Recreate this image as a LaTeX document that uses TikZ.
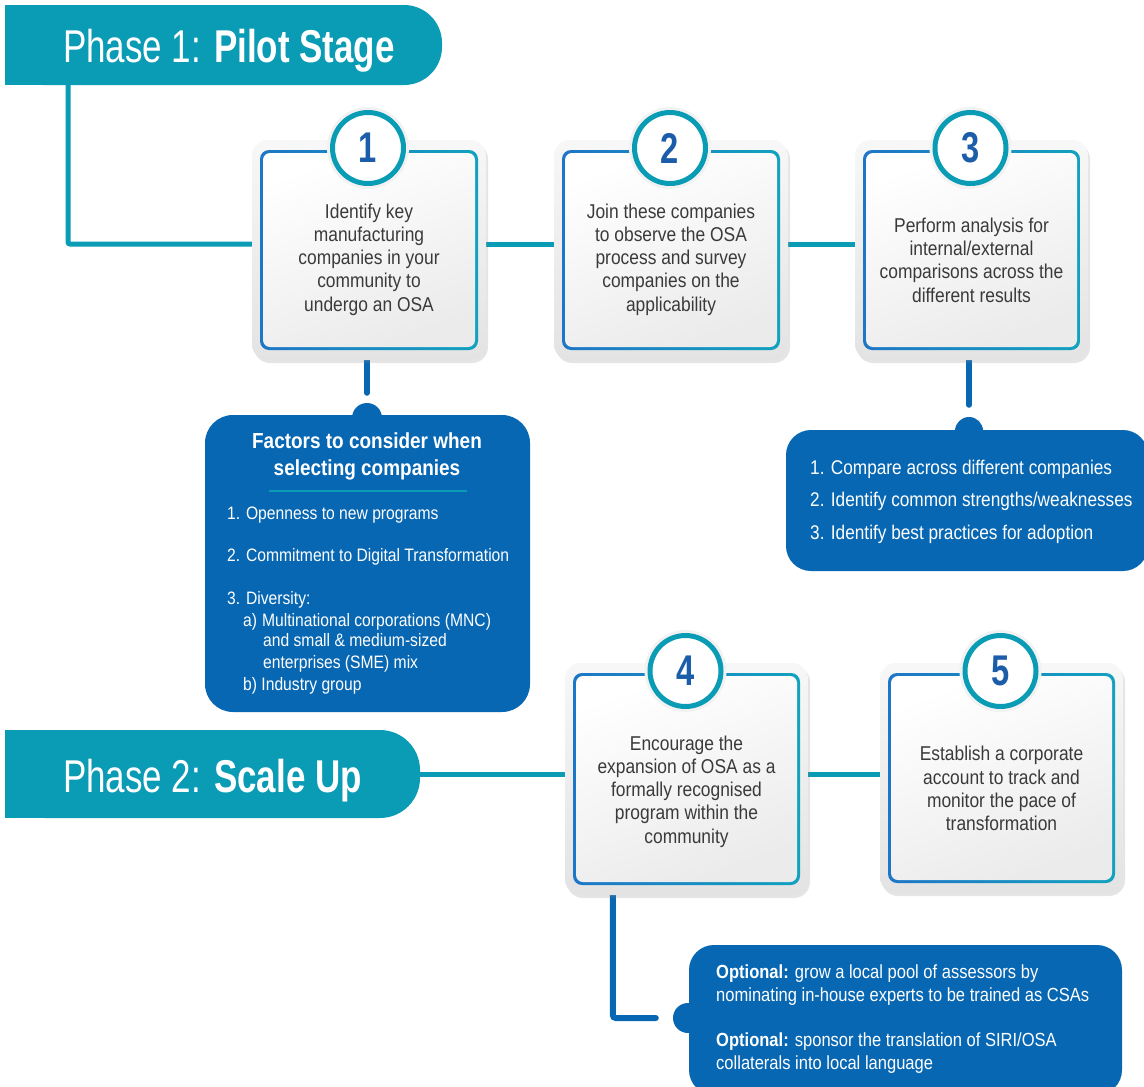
\documentclass[tikz,border=0pt]{standalone}
\usepackage{fontspec}
\setmainfont{Liberation Sans}[FakeStretch=0.87]
\newfontfamily\titlefont{Liberation Sans}[FakeStretch=0.76]
\usetikzlibrary{shadows,calc}
\pgfdeclarelayer{bg}
\pgfsetlayers{bg,main}
\definecolor{teal1}{HTML}{0A9BB5}
\definecolor{dblue}{HTML}{0767B3}
\definecolor{numblue}{HTML}{1C5DAA}
\definecolor{cbL}{HTML}{1E76C6}
\definecolor{cbR}{HTML}{12A2BF}
\definecolor{txtgray}{HTML}{3A3A3A}
\tikzset{
  cardframe/.style={rectangle, rounded corners=16pt, top color=gray!6, bottom color=gray!22, draw=none, inner sep=0pt,
    drop shadow={opacity=0.2, shadow xshift=2pt, shadow yshift=-3pt}},
  cardborder/.style={rectangle, rounded corners=9pt, left color=cbL, right color=cbR, inner sep=0pt},
  cardfill/.style={rectangle, rounded corners=7pt, top color=white, bottom color=gray!16, shading angle=20, inner sep=0pt},
  numhalo/.style={circle, fill=gray!10, inner sep=0pt, minimum size=82pt},
  numcircle/.style={circle, fill=white, draw=teal1, line width=5pt, minimum size=71pt, inner sep=0pt,
    font=\titlefont\bfseries\fontsize{43}{43}\selectfont, text=numblue},
  cardtext/.style={align=center, text=txtgray, inner sep=0pt, font=\fontsize{20}{23.3}\selectfont},
  tealline/.style={draw=teal1, line width=5pt, rounded corners=2pt},
  blueline/.style={draw=dblue, line width=6pt, line cap=round, rounded corners=3pt},
  bluebox/.style={rectangle, fill=dblue, inner sep=0pt},
  bubble/.style={circle, fill=dblue, inner sep=0pt, minimum size=30pt},
  wlist/.style={text=white, inner sep=0pt, anchor=base west, font=\fontsize{18}{21}\selectfont},
  wlistb/.style={text=white, inner sep=0pt, anchor=base west, font=\fontsize{19.8}{23}\selectfont},
  wopt/.style={text=white, inner sep=0pt, anchor=base west, font=\fontsize{19}{23}\selectfont},
  phasetext/.style={anchor=base west, inner sep=0pt, text=white, font=\titlefont\fontsize{46}{46}\selectfont},
}
% #1 name, #2 cx, #3 cy, #4 inner w, #5 inner h, #6 number, #7 text y, #8 text
\newcommand\stepcard[8]{%
  \node[cardframe, minimum width=#4+16, minimum height=#5+20] (#1) at (#2,#3) {};
  \node[cardborder, minimum width=#4, minimum height=#5] (#1b) at (#2,#3) {};
  \node[cardfill, minimum width=#4-6, minimum height=#5-6] (#1f) at (#2,#3) {};
  \node[numhalo] (#1h) at (#2-1,#3-#5/2-2) {};
  \node[numcircle] (#1n) at (#2-1,#3-#5/2-2) {#6};
  \node[cardtext] (#1t) at (#2,#7) {#8};
}
\begin{document}
\begin{tikzpicture}[x=1pt,y=-1pt]
\useasboundingbox (0,0) rectangle (1144,1087);
\begin{pgfonlayer}{bg}
  \fill[white] (0,0) rectangle (1144,1087);
\end{pgfonlayer}

% Phase banners
\fill[teal1] (5,5) rectangle (400,85);
\fill[teal1, rounded corners=38pt] (5,5) rectangle (442,85);
\node[phasetext] (ph1) at (63,62) {Phase 1: \textbf{Pilot Stage}};
\coordinate (p1drop) at (68,85);

\fill[teal1] (5,730) rectangle (380,818);
\fill[teal1, rounded corners=40pt] (5,730) rectangle (420,818);
\node[phasetext] (ph2) at (63,792) {Phase 2: \textbf{Scale Up}};
\coordinate (p2e) at (420,774);

% Step cards
\stepcard{b1}{369}{250}{218}{200}{1}{259.5}{Identify key\\manufacturing\\companies in your\\community to\\undergo an OSA}
\stepcard{b2}{671}{250}{218}{200}{2}{259.5}{Join these companies\\to observe the OSA\\process and survey\\companies on the\\applicability}
\stepcard{b3}{971.5}{250}{217}{200}{3}{260}{Perform analysis for\\internal/external\\comparisons across the\\different results}
\stepcard{b4}{686.5}{779}{227}{212}{4}{791.5}{Encourage the\\expansion of OSA as a\\formally recognised\\program within the\\community}
\stepcard{b5}{1001.5}{778}{227}{210}{5}{788.5}{Establish a corporate\\account to track and\\monitor the pace of\\transformation}

% Factors box
\node[bubble] (fbub) at (367,418) {};
\node[bluebox, rounded corners=28pt, minimum width=325pt, minimum height=297pt] (fbox) at (367.5,563.5) {};
\node[align=center, text=white, inner sep=0pt, font=\bfseries\fontsize{21.8}{27}\selectfont] (fhead) at (367,456.5) {Factors to consider when\\selecting companies};
\draw[teal1, line width=2pt] (269,491) -- (467,491);
\node[wlist] (f1) at (227,519) {1. Openness to new programs};
\node[wlist] (f2) at (227,561) {2. Commitment to Digital Transformation};
\node[wlist] (f3) at (227,604) {3. Diversity:};
\node[wlist] (f3a) at (243,626) {a)\hspace{5pt}Multinational corporations (MNC)};
\node[wlist] (f3a2) at (263,646) {and small \& medium-sized};
\node[wlist] (f3a3) at (263,668) {enterprises (SME) mix};
\node[wlist] (f3b) at (243,690) {b) Industry group};

% Analysis list box
\node[bubble, minimum size=28pt] (lbub) at (969,431) {};
\node[bluebox, rounded corners=25pt, minimum width=362pt, minimum height=141pt] (lbox) at (967,500.5) {};
\node[wlistb] (l1) at (810,474) {1. Compare across different companies};
\node[wlistb] (l2) at (810,506) {2. Identify common strengths/weaknesses};
\node[wlistb] (l3) at (810,539) {3. Identify best practices for adoption};

% Optional box
\node[bubble] (obub) at (688,1018) {};
\node[bluebox, rounded corners=25pt, minimum width=433pt, minimum height=150pt] (obox) at (905.5,1020) {};
\node[wopt] (o1) at (716,978) {\textbf{Optional:} grow a local pool of assessors by};
\node[wopt] (o2) at (716,1001) {nominating in-house experts to be trained as CSAs};
\node[wopt] (o3) at (716,1046) {\textbf{Optional:} sponsor the translation of SIRI/OSA};
\node[wopt] (o4) at (716,1069) {collaterals into local language};

% Connectors
\coordinate (row1) at (0,244);
\begin{pgfonlayer}{bg}
  \draw[tealline] (p1drop) |- (b1.west |- row1);
  \draw[tealline] (b1.east |- row1) -- (b2.west |- row1);
  \draw[tealline] (b2.east |- row1) -- (b3.west |- row1);
  \draw[tealline] (p2e) -- (p2e -| b4.west);
  \draw[tealline] (b4.east |- p2e) -- (b5.west |- p2e);
  \draw[blueline] (b1.south -| fbub) -- ([yshift=10pt]fbub.north);
  \draw[blueline] (b3.south -| lbub) -- ([yshift=12pt]lbub.north);
  \draw[blueline] ([xshift=48pt]b4.south west) |- ([xshift=-17pt]obub.west);
\end{pgfonlayer}
\end{tikzpicture}
\end{document}
